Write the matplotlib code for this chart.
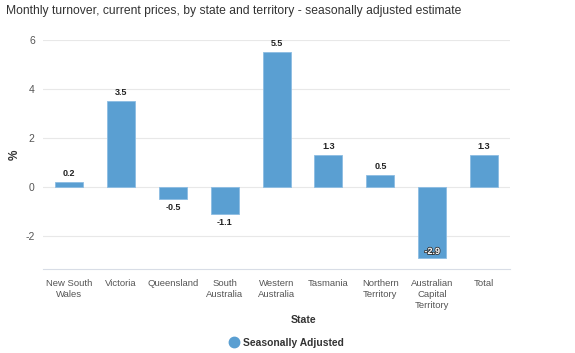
import matplotlib.pyplot as plt
import matplotlib.patheffects as pe
from matplotlib.lines import Line2D

plt.rcParams['font.family'] = ['Liberation Sans', 'DejaVu Sans']
plt.rcParams['axes.unicode_minus'] = False

states = ['New South\nWales', 'Victoria', 'Queensland', 'South\nAustralia',
          'Western\nAustralia', 'Tasmania', 'Northern\nTerritory',
          'Australian\nCapital\nTerritory', 'Total']
values = [0.2, 3.5, -0.5, -1.1, 5.5, 1.3, 0.5, -2.9, 1.3]
yticks = [-2, 0, 2, 4, 6]

bar_color = '#5a9fd2'

fig = plt.figure(figsize=(5.75, 3.53), dpi=100)
ax = fig.add_axes([0.075, 0.238, 0.812, 0.649])

x = range(len(states))
ax.bar(x, values, width=0.54, color=bar_color, edgecolor='#8cbde3', linewidth=0.6, zorder=3)

for i, v in enumerate(values):
    if v < -2:
        ax.text(i, v + 0.08, f'{v}', ha='center', va='bottom', fontsize=6.5,
                fontweight='bold', color='white', zorder=4,
                path_effects=[pe.withStroke(linewidth=1.2, foreground='#333333')])
    elif v >= 0:
        ax.text(i, v + 0.15, f'{v}', ha='center', va='bottom', fontsize=6.5,
                fontweight='bold', color='#222222', zorder=4)
    else:
        ax.text(i, v - 0.15, f'{v}', ha='center', va='top', fontsize=6.5,
                fontweight='bold', color='#222222', zorder=4)

ax.set_ylim(-3.35, 6)
ax.set_xlim(-0.5, len(states) - 0.5)
ax.set_yticks(yticks)
ax.set_xticks(list(x))
ax.set_xticklabels(states, fontsize=6.8, color='#555555', linespacing=1.3)
ax.tick_params(axis='y', labelsize=7.5, colors='#555555', length=0, pad=6)
ax.tick_params(axis='x', length=0, pad=7)
ax.grid(axis='y', color='#e8e8e8', linewidth=0.8, zorder=0)
for s in ['top', 'right', 'left']:
    ax.spines[s].set_visible(False)
ax.spines['bottom'].set_color('#d8dde6')
ax.spines['bottom'].set_linewidth(0.8)

fig.text(15 / 575, 1 - 155 / 353, '%', fontsize=8.5, fontweight='bold', color='#333333',
         rotation=90, ha='center', va='center')
fig.text(304 / 575, 1 - 320 / 353, 'State', fontsize=7.6, fontweight='bold', color='#333333',
         ha='center', va='center')

fig.text(0.01, 0.968, 'Monthly turnover, current prices, by state and territory - seasonally adjusted estimate',
         fontsize=8.7, color='#333333', va='center', ha='left')

handle = Line2D([], [], marker='o', linestyle='none', markersize=7.5,
                markerfacecolor=bar_color, markeredgecolor=bar_color)
fig.legend([handle], ['Seasonally Adjusted'], loc='center', bbox_to_anchor=(286 / 575, 1 - 343 / 353),
           frameon=False, handletextpad=0.4, handlelength=1.0, prop={'size': 7.4, 'weight': 'bold'},
           labelcolor='#333333', borderpad=0)

fig.savefig('out.png', dpi=100)
